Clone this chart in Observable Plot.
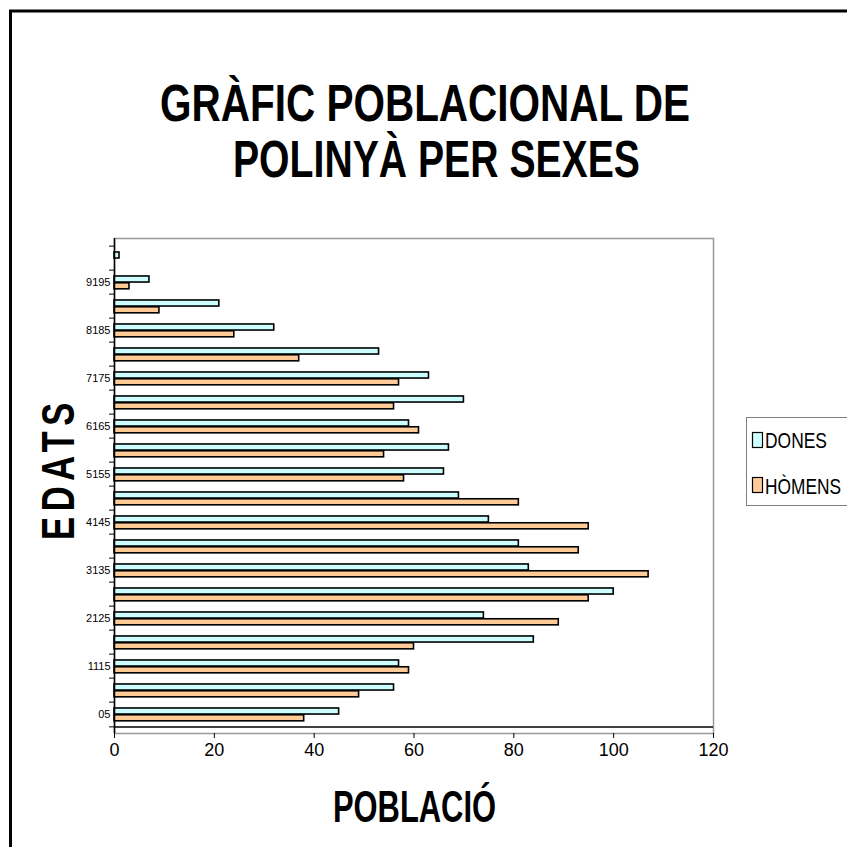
<!DOCTYPE html>
<html>
<head>
<meta charset="utf-8">
<script src="https://cdn.jsdelivr.net/npm/d3@7"></script>
<script src="https://cdn.jsdelivr.net/npm/@observablehq/plot@0.6"></script>
<style>
  html, body { margin: 0; padding: 0; background: #fff; }
  #chart { position: relative; width: 847px; height: 847px; overflow: hidden; }
</style>
</head>
<body>
<div id="chart"></div>
<script>
// ---- data ----
const categories = ["05","610","1115","1620","2125","2630","3135","3640","4145","4650",
                    "5155","5660","6165","6670","7175","7680","8185","8690","9195","96100"];
const dones  = [45, 56, 57, 84, 74, 100, 83, 81, 75, 69, 66, 67, 59, 70, 63, 53, 32, 21, 7, 1];
const homens = [38, 49, 59, 60, 89, 95, 107, 93, 95, 81, 58, 54, 61, 56, 57, 37, 24, 9, 3, 0];
const xTicks = [0, 20, 40, 60, 80, 100, 120];
const labeledCategories = categories.filter((d, i) => i % 2 === 0);
const seriesNames = ["DONES", "HÒMENS"];
const titleLines = ["GRÀFIC POBLACIONAL DE", "POLINYÀ PER SEXES"];
const xLabel = "POBLACIÓ";
const yLabel = "EDATS";

const rows = categories.map((c, i) => ({cat: c, dones: dones[i], homens: homens[i]}));

const W = 847, H = 847;
const mL = 114, mR = 134, mT = 238, mB = 114;
const bw = (H - mT - mB) / categories.length;
const barH = 6.8, gapTop = (bw - 2 * 6.8) / 2 + 0.4;
const colD = "#CCFFFF", colH = "#FFCC99";
const font = "'Liberation Sans', Arial, Helvetica, sans-serif";

const svg = Plot.plot({
  width: W, height: H,
  marginLeft: mL, marginRight: mR, marginTop: mT, marginBottom: mB,
  style: {fontFamily: font, background: "#fff", overflow: "visible"},
  x: {domain: [0, 120]},
  y: {domain: categories.slice().reverse(), padding: 0},
  marks: [
    Plot.frame({stroke: "#999", strokeWidth: 1.5}),
    Plot.barX(rows, {x: "dones", y: "cat", fill: colD, stroke: "#000", strokeWidth: 1.6,
      insetTop: gapTop, insetBottom: bw - gapTop - barH}),
    Plot.barX(rows, {x: "homens", y: "cat", fill: colH, stroke: "#000", strokeWidth: 1.6,
      insetTop: gapTop + barH, insetBottom: bw - gapTop - 2 * barH}),
    Plot.ruleX([0], {stroke: "#000", strokeWidth: 1.5}),
    Plot.ruleY([categories[0]], {dy: bw / 2, stroke: "#000", strokeWidth: 1.5}),
    Plot.axisY({ticks: categories, tickSize: 5, text: null, dy: -bw / 2, label: null, stroke: "#000"}),
    Plot.axisY({ticks: [categories[0]], tickSize: 5, text: null, dy: bw / 2, label: null, stroke: "#000"}),
    Plot.axisY({ticks: labeledCategories, tickSize: 0, tickPadding: 4, fontSize: 11, label: null, fill: "#000"}),
    Plot.axisX({ticks: xTicks, tickSize: 5, tickPadding: 5, fontSize: 18, label: null, fill: "#000", stroke: "#000"})
  ]
});

const s = d3.select(svg);
// outer border (top and left)
s.append("path").attr("d", `M10.5,${H + 5} V11 H${W + 5}`)
  .attr("fill", "none").attr("stroke", "#000").attr("stroke-width", 3);

function addText(g, str, opts) {
  const t = g.append("text").text(str)
    .attr("text-anchor", "start")
    .attr("font-family", font)
    .attr("font-weight", opts.bold ? "bold" : "normal")
    .attr("font-size", opts.size)
    .attr("fill", "#000");
  if (opts.transform) t.attr("transform", opts.transform);
  else t.attr("x", opts.x).attr("y", opts.y);
  if (opts.len) t.attr("textLength", opts.len).attr("lengthAdjust", opts.adjust || "spacingAndGlyphs");
  return t;
}

// title
addText(s, titleLines[0], {x: 160, y: 121, size: 51, bold: true, len: 530});
addText(s, titleLines[1], {x: 233, y: 177, size: 51, bold: true, len: 407});

// x axis label
addText(s, xLabel, {x: 333, y: 822, size: 45, bold: true, len: 163});

// y axis label (condensed glyphs, spaced out)
addText(s, yLabel, {transform: "translate(74,540) rotate(-90) scale(0.75,1)", size: 46, bold: true,
  len: 183, adjust: "spacing"});

// legend
const lg = s.append("g");
lg.append("rect").attr("x", 746.5).attr("y", 417.5).attr("width", 120).attr("height", 88)
  .attr("fill", "#fff").attr("stroke", "#808080").attr("stroke-width", 1);
const legendItems = [
  {name: seriesNames[0], color: colD, sy: 432, ty: 448, len: 62},
  {name: seriesNames[1], color: colH, sy: 477, ty: 494, len: 76}
];
legendItems.forEach(it => {
  lg.append("rect").attr("x", 752.5).attr("y", it.sy + 0.5).attr("width", 10).attr("height", 15)
    .attr("fill", it.color).attr("stroke", "#000").attr("stroke-width", 1.2);
  addText(lg, it.name, {x: 765, y: it.ty, size: 22, len: it.len});
});

document.getElementById("chart").appendChild(svg);
</script>
</body>
</html>
